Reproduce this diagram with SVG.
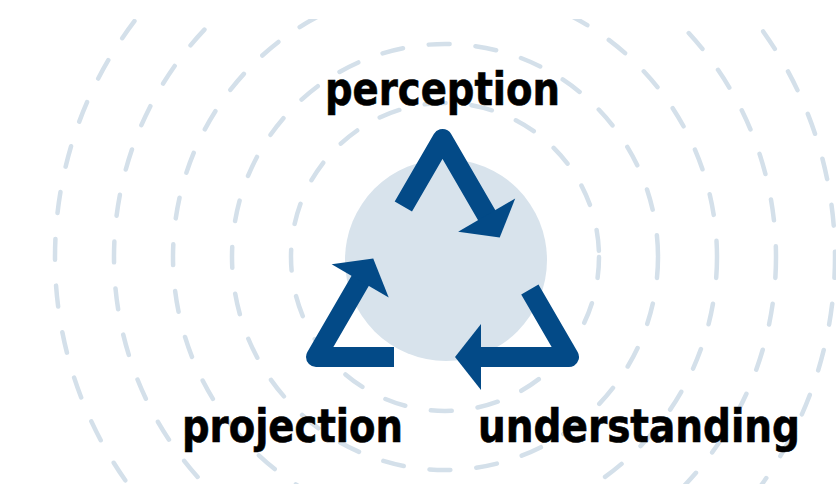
<svg xmlns="http://www.w3.org/2000/svg" width="836" height="484" viewBox="0 0 836 484">
  <style>
    .ring { fill: none; stroke: #d4e0ea; stroke-width: 4.5; stroke-linecap: round; stroke-dasharray: 21 26; }
    .shaft { fill: none; stroke: #034a87; stroke-width: 20; stroke-linejoin: round; stroke-linecap: butt; }
    .head { fill: #034a87; }
    .label { font-family: "DejaVu Sans Condensed", "DejaVu Sans", "Liberation Sans", sans-serif; font-weight: bold; font-size: 46px; fill: #000; stroke: #000; stroke-width: 0.6; text-anchor: start; }
  </style>
  <defs>
    <clipPath id="rings-clip">
      <rect x="0" y="19" width="836" height="465"/>
    </clipPath>
  </defs>

  <rect width="836" height="484" fill="#ffffff"/>

  <!-- concentric dashed rings -->
  <g id="rings" clip-path="url(#rings-clip)">
    <circle class="ring" cx="445" cy="257" r="154"/>
    <circle class="ring" cx="445" cy="257" r="213"/>
    <circle class="ring" cx="445" cy="257" r="272"/>
    <circle class="ring" cx="445" cy="257" r="331"/>
    <circle class="ring" cx="445" cy="257" r="390"/>
  </g>

  <!-- central disc -->
  <g id="core">
    <circle cx="446" cy="260" r="101" fill="#d8e3ec"/>
  </g>

  <!-- cycle arrows -->
  <g id="connectors">
    <g id="perception-to-understanding">
      <polyline class="shaft" points="403.35,206.46 442.5,139 487.17,215.97"/>
      <polygon class="head" points="515.21,198.55 499.72,237.60 458.13,231.67"/>
    </g>
    <g id="understanding-to-projection">
      <polyline class="shaft" points="529.85,289.54 569,357 480,357"/>
      <polygon class="head" points="481,324 455,357 481,390"/>
    </g>
    <g id="projection-to-perception">
      <polyline class="shaft" points="394,357 316,357 360.67,280.03"/>
      <polygon class="head" points="388.71,297.45 373.22,258.40 331.63,264.33"/>
    </g>
  </g>

  <!-- labels -->
  <g id="perception">
    <text class="label" x="325" y="105" textLength="235" lengthAdjust="spacingAndGlyphs">perception</text>
  </g>
  <g id="projection">
    <text class="label" x="182" y="442" textLength="221" lengthAdjust="spacingAndGlyphs">projection</text>
  </g>
  <g id="understanding">
    <text class="label" x="478" y="442" textLength="322" lengthAdjust="spacingAndGlyphs">understanding</text>
  </g>
</svg>
